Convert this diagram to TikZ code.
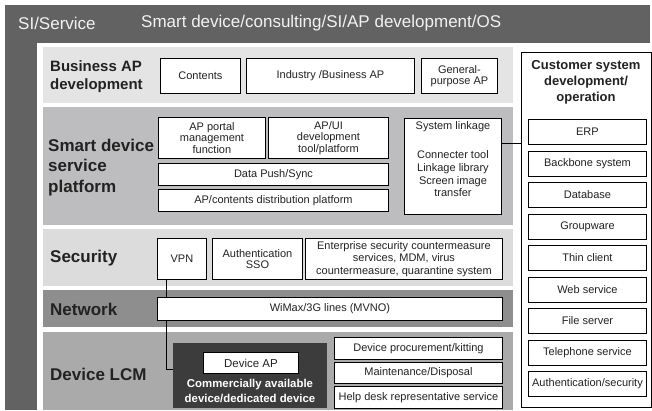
\documentclass[tikz,border=0pt]{standalone}
\usepackage{fontspec}
\setmainfont{Liberation Sans}
\definecolor{frameC}{HTML}{626262}
\definecolor{pBiz}{HTML}{E4E4E4}
\definecolor{pSmart}{HTML}{BDBDBF}
\definecolor{pSec}{HTML}{DCDCDC}
\definecolor{pNet}{HTML}{8E8E8E}
\definecolor{pLcm}{HTML}{AAAAAA}
\definecolor{devC}{HTML}{3C3C3C}
\definecolor{txtC}{HTML}{222222}
\definecolor{topTxt}{HTML}{F2F2F2}
\begin{document}
\begin{tikzpicture}[x=1pt,y=-1pt,
  panel/.style={draw=none,inner sep=0pt,anchor=north west},
  box/.style={draw=black,line width=0.9pt,fill=white,inner sep=1pt,align=center,
    font=\fontsize{11}{11.5}\selectfont,text=txtC,anchor=north west},
  custbox/.style={box,minimum width=118pt,minimum height=25pt},
  lbl/.style={font=\bfseries\fontsize{17}{20.5}\selectfont,anchor=west,align=left,text=txtC,inner sep=0pt},
  toptext/.style={font=\fontsize{17}{20}\selectfont,anchor=west,text=topTxt,inner sep=0pt},
  conn/.style={draw=black,line width=0.9pt}]
\useasboundingbox (0,0) rectangle (652,410);
% frame
\fill[frameC] (5,5) rectangle (650,410);
\fill[white] (37,43) rectangle (652,410);
\node[toptext] (si) at (18,23) {SI/Service};
\node[toptext] (sd) at (141,23) {Smart device/consulting/SI/AP development/OS};
% panels
\node[panel,fill=pBiz,minimum width=470pt,minimum height=56pt] (pbiz) at (43,47) {};
\node[panel,fill=pSmart,minimum width=470pt,minimum height=118pt] (psmart) at (43,107) {};
\node[panel,fill=pSec,minimum width=470pt,minimum height=57pt] (psec) at (43,229) {};
\node[panel,fill=pNet,minimum width=470pt,minimum height=37pt] (pnet) at (43,290) {};
\node[panel,fill=pLcm,minimum width=470pt,minimum height=78pt] (plcm) at (43,332) {};
% labels
\node[lbl,font=\bfseries\fontsize{15}{17.5}\selectfont] (lbiz) at (50,76.5) {Business AP\\development};
\node[lbl] (lsmart) at (48,167.5) {Smart device\\service\\platform};
\node[lbl] (lsec) at (50,258) {Security};
\node[lbl] (lnet) at (50,309) {Network};
\node[lbl] (llcm) at (50,374) {Device LCM};
% business AP row
\node[box,minimum width=80pt,minimum height=35pt] (contents) at (160,58) {Contents};
\node[box,minimum width=168pt,minimum height=35pt] (industry) at (246,58) {Industry /Business AP};
\node[box,minimum width=76pt,minimum height=35pt] (general) at (421,58) {General-\\purpose AP};
% smart device row
\node[box,minimum width=107pt,minimum height=41pt] (portal) at (158,117) {AP portal\\management\\function};
\node[box,minimum width=120pt,minimum height=41pt] (apui) at (268,117) {AP/UI\\development\\tool/platform};
\node[box,minimum width=230pt,minimum height=22pt] (push) at (158,163) {Data Push/Sync};
\node[box,minimum width=230pt,minimum height=22pt] (dist) at (158,189) {AP/contents distribution platform};
\node[box,minimum width=97pt,minimum height=96pt,font=\fontsize{11}{12.7}\selectfont] (syslink) at (404,118) {System linkage\\[17pt]Connecter tool\\Linkage library\\Screen image\\transfer\\[2pt]};
% security row
\node[box,minimum width=49pt,minimum height=41pt] (vpn) at (157,238) {VPN};
\node[box,minimum width=90pt,minimum height=41pt] (auth) at (212,238) {Authentication\\SSO};
\node[box,minimum width=197pt,minimum height=41pt,font=\fontsize{11}{12.5}\selectfont] (enter) at (305,238) {Enterprise security countermeasure\\services, MDM, virus\\countermeasure, quarantine system};
% device LCM
\node[panel,fill=devC,minimum width=154pt,minimum height=65pt] (devbox) at (173,343) {};
\draw[conn] ([xshift=-15.5pt]vpn.south) |- ([yshift=6.5pt]devbox.west);
% network
\node[box,minimum width=345pt,minimum height=23pt] (wimax) at (157,297) {WiMax/3G lines (MVNO)};
\node[box,minimum width=95pt,minimum height=21pt,font=\fontsize{11.5}{12}\selectfont] (devap) at (203,352) {Device AP};
\node[font=\bfseries\fontsize{11.4}{15}\selectfont,text=white,align=center,inner sep=0pt] (devtxt) at (250,390.5) {Commercially available\\device/dedicated device};
\node[box,minimum width=168pt,minimum height=22pt] (proc) at (334,337) {Device procurement/kitting};
\node[box,minimum width=168pt,minimum height=21pt] (maint) at (334,362) {Maintenance/Disposal};
\node[box,minimum width=168pt,minimum height=22pt] (help) at (334,386) {Help desk representative service};
% customer system
\node[box,minimum width=130pt,minimum height=355pt] (cust) at (521,52) {};
\node[font=\bfseries\fontsize{13}{16}\selectfont,text=txtC,align=center,inner sep=0pt] (custhead) at (586,82) {Customer system\\development/\\operation};
\node[custbox] (erp) at (528,119) {ERP};
\node[custbox] (backbone) at (528,150.5) {Backbone system};
\node[custbox] (db) at (528,182) {Database};
\node[custbox] (group) at (528,213.5) {Groupware};
\node[custbox] (thin) at (528,245) {Thin client};
\node[custbox] (web) at (528,276.5) {Web service};
\node[custbox] (file) at (528,308) {File server};
\node[custbox] (tel) at (528,339.5) {Telephone service};
\node[custbox] (authsec) at (528,371) {Authentication/security};
% system linkage connector
\coordinate (slc) at ([yshift=23pt]syslink.east);
\draw[conn] (slc) -- (slc -| cust.west);
\end{tikzpicture}
\end{document}
